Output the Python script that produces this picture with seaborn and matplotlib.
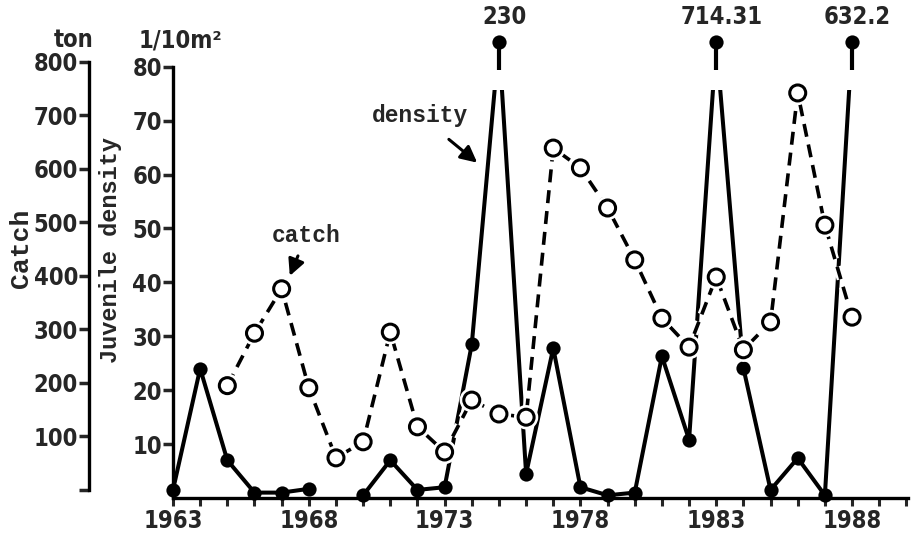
import numpy as np
import pandas as pd
import matplotlib
matplotlib.use("Agg")
import matplotlib.pyplot as plt
import matplotlib.patheffects as pe
from matplotlib.patches import Rectangle
import seaborn as sns

# values
years = list(range(1963, 1989))
density = [1.5, 24.0, 7.0, 1.0, 1.0, 1.7, np.nan, 0.5, 7.0, 1.5, 2.0, 28.5, 230,
           4.5, 27.8, 2.0, 0.5, 1.0, 26.3, 10.8, 714.31, 24.1, 1.5, 7.4, 0.5, 632.2]
catch_years = list(range(1965, 1989))
catch = [195, 293, 376, 191, 60, 90, 295, 118, 71, 168, 142, 136,
         639, 602, 527, 430, 321, 267, 398, 262, 314, 742, 495, 323]
year_labels = [1963, 1968, 1973, 1978, 1983, 1988]
catch_ticks = [0, 100, 200, 300, 400, 500, 600, 700, 800]
density_ticks = [10, 20, 30, 40, 50, 60, 70, 80]

density_max = 80      # top of the density scale
overflow_level = 84.6  # where off-scale points are drawn
break_level = 75.7     # line is cut here for off-scale points

sns.set_theme(style="white")
plt.rcParams["font.family"] = ["DejaVu Sans"]
plt.rcParams["font.stretch"] = "condensed"
plt.rcParams["font.weight"] = "bold"
plt.rcParams["axes.linewidth"] = 2.4
plt.rcParams["axes.edgecolor"] = "black"
mono = ["Liberation Mono", "DejaVu Sans Mono"]

dens = pd.DataFrame({"year": years, "density": density})
dens["seg"] = dens["density"].isna().cumsum()
dens["shown"] = dens["density"].where(dens["density"] <= density_max, overflow_level)
dens.loc[dens["density"].isna(), "shown"] = np.nan
pts = dens.dropna()
over = pts[pts["density"] > density_max]

cat = pd.DataFrame({"year": catch_years, "catch": catch})

fig = plt.figure(figsize=(9.11, 5.43), dpi=100)
ax = fig.add_axes([173 / 911, 45 / 543, 735 / 911, 496 / 543])
ax2 = ax.twinx()

# juvenile density: solid line, filled dots
sns.lineplot(data=pts, x="year", y="shown", units="seg", estimator=None,
             color="black", linewidth=2.9, legend=False, ax=ax)
clip = Rectangle((1950, -20), 60, 20 + break_level, transform=ax.transData)
for ln in ax.lines:
    ln.set_clip_path(clip)
sns.scatterplot(data=pts, x="year", y="shown", color="black", s=105,
                linewidth=0, clip_on=False, zorder=4, ax=ax)
ax.vlines(over["year"], overflow_level - 5.2, overflow_level - 1.4,
          color="black", linewidth=3)
for _, r in over.iterrows():
    ax.annotate(f"{r['density']:g}", xy=(r["year"], overflow_level),
                xytext=(4, 9), textcoords="offset points",
                ha="center", va="bottom", fontsize=17)

# catch: dashed line, open circles
sns.lineplot(data=cat, x="year", y="catch", estimator=None, color="black",
             linewidth=2.6, linestyle=(0, (3.6, 2.2)), legend=False, ax=ax2)
for ln in ax2.lines:
    ln.set_marker("o")
    ln.set_markersize(11.5)
    ln.set_markerfacecolor("white")
    ln.set_markeredgecolor("black")
    ln.set_markeredgewidth(2.2)
    ln.set_path_effects([pe.Stroke(linewidth=6, foreground="white"), pe.Normal()])

# axes
ax.set_xlim(1963, 1990.06)
ax.set_ylim(0, 92)
ax2.set_ylim(-15, 912)

for s in ["top", "right"]:
    ax.spines[s].set_visible(False)
ax.spines["left"].set_bounds(0, density_max)
for s in ["top", "right", "bottom"]:
    ax2.spines[s].set_visible(False)
ax2.spines["left"].set_visible(True)
ax2.spines["left"].set_position(("axes", -84 / 735))
ax2.spines["left"].set_bounds(0, 800)
ax2.yaxis.set_ticks_position("left")

ax.set_xticks(range(1963, 1991))
ax.set_xticklabels([str(y) if y in year_labels else "" for y in range(1963, 1991)])
ax.set_yticks(density_ticks)
ax.set_yticklabels([str(t) for t in density_ticks])
ax2.set_yticks(catch_ticks)
ax2.set_yticklabels(["" if t == 0 else str(t) for t in catch_ticks])

ax.tick_params(axis="x", direction="out", length=6, width=2.2, labelsize=17, pad=2, bottom=True)
ax.tick_params(axis="y", direction="out", length=7, width=2.5, labelsize=17, pad=1, left=True)
ax2.tick_params(axis="y", direction="out", length=7, width=2.5, labelsize=17, pad=1,
                left=True, right=False, labelleft=True, labelright=False)
ax.set_xlabel("")
ax.set_ylabel("")
ax2.set_ylabel("")

# units and axis titles
fig.text(74 / 911, 1 - 40 / 543, "ton", ha="center", va="center", fontsize=17)
fig.text(180 / 911, 1 - 40 / 543, "1/10m²", ha="center", va="center", fontsize=17)
fig.text(21 / 911, 1 - 248 / 543, "Catch", rotation=90, ha="center", va="center",
         fontsize=19, family=mono)
fig.text(110 / 911, 1 - 250 / 543, "Juvenile density", rotation=90, ha="center",
         va="center", fontsize=17, family=mono)

arrow = dict(arrowstyle="-|>,head_length=0.6,head_width=0.3", color="black", lw=2.2,
             shrinkA=4, shrinkB=0)
ax.annotate("catch", xy=(1967.3, 41.2), xytext=(1967.9, 48.6), ha="center", va="center",
            fontsize=16.5, family=mono, arrowprops=arrow)
ax.annotate("density", xy=(1974.2, 62.2), xytext=(1972.1, 70.9), ha="center", va="center",
            fontsize=16.5, family=mono, arrowprops=dict(arrow, shrinkA=10))

fig.savefig("out.png", dpi=100, facecolor="white")
